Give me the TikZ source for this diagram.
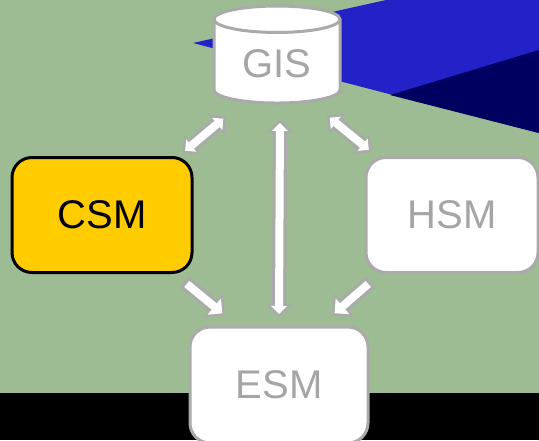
\documentclass[tikz,border=0pt]{standalone}
\usepackage{fontspec}
\setmainfont{Liberation Sans}
\usetikzlibrary{arrows.meta,shapes.geometric,calc}

\definecolor{bggreen}{RGB}{157,188,147}
\definecolor{seablue}{RGB}{34,34,200}
\definecolor{deepblue}{RGB}{0,0,96}
\definecolor{linegray}{RGB}{170,170,170}
\definecolor{textgray}{RGB}{165,165,165}
\definecolor{modelyellow}{RGB}{255,204,0}

\tikzstyle{block} = [rectangle, draw=linegray, fill=white, line width=3pt, rounded corners=20pt, minimum width=176pt, minimum height=115pt, text=textgray, font=\fontsize{40}{48}\selectfont]
\tikzstyle{store} = [cylinder, shape border rotate=90, shape aspect=0.35, draw=linegray, fill=white, line width=3pt, minimum width=126pt, minimum height=97pt, text=textgray, font=\fontsize{40}{48}\selectfont]
\tikzset{
  fatout/.style = {draw=linegray, line width=14pt},
  fatin/.style = {draw=white, line width=8pt},
  pairout/.style = {fatout, arrows={Triangle[length=13pt,width=26pt,line width=0pt]-Triangle[length=13pt,width=26pt,line width=0pt]}},
  pairin/.style = {fatin, arrows={Triangle[length=8pt,width=16pt,line width=0pt]-Triangle[length=8pt,width=16pt,line width=0pt]}, shorten <=3.5pt, shorten >=3.5pt},
  singleout/.style = {fatout, arrows={-Triangle[length=16pt,width=31pt,line width=0pt]}},
  singlein/.style = {fatin, arrows={-Triangle[length=10.5pt,width=21pt,line width=0pt]}, shorten <=3pt, shorten >=3.5pt},
}
\newcommand{\fatlink}[2]{%
  \draw[singleout] (#1) -- (#2);
  \draw[singlein] (#1) -- (#2);
}
\newcommand{\fatpair}[2]{%
  \draw[pairout] (#1) -- (#2);
  \draw[pairin] (#1) -- (#2);
}

\begin{document}
\begin{tikzpicture}[x=1pt, y=-1pt]
  \useasboundingbox (0,0) rectangle (539,440);
  \clip (0,0) rectangle (539,440);

  % backdrop
  \fill[bggreen] (0,0) rectangle (539,440);
  \fill[seablue] (193,43) -- (386,0) -- (539,0) -- (539,133) -- cycle;
  \fill[deepblue] (390,95) -- (539,50) -- (539,133) -- cycle;
  \fill[black] (0,393) rectangle (539,440);

  % vertices
  \node[store] (gis) at (277,64) {GIS};
  \node[block, draw=black, fill=modelyellow, text=black, minimum width=180pt] (csm) at (102,215) {CSM};
  \node[block, minimum width=172pt] (hsm) at (452,215) {HSM};
  \node[block, minimum width=178pt, minimum height=116pt] (esm) at (279,385) {ESM};

  % edges
  \fatpair{$(csm.north east)+(-11,-3)$}{$(gis.south)+(-51,12)$}
  \fatpair{$(hsm.north west)+(7,-4)$}{$(gis.south)+(50,11)$}
  \fatpair{$(esm.north)+(0,-8)$}{$(gis.south)+(3,15)$}
  \fatlink{$(csm.south east)+(-9,8)$}{$(esm.north)+(-54,-10)$}
  \fatlink{$(hsm.south west)+(6,8)$}{$(esm.north)+(53,-10)$}

\end{tikzpicture}
\end{document}
